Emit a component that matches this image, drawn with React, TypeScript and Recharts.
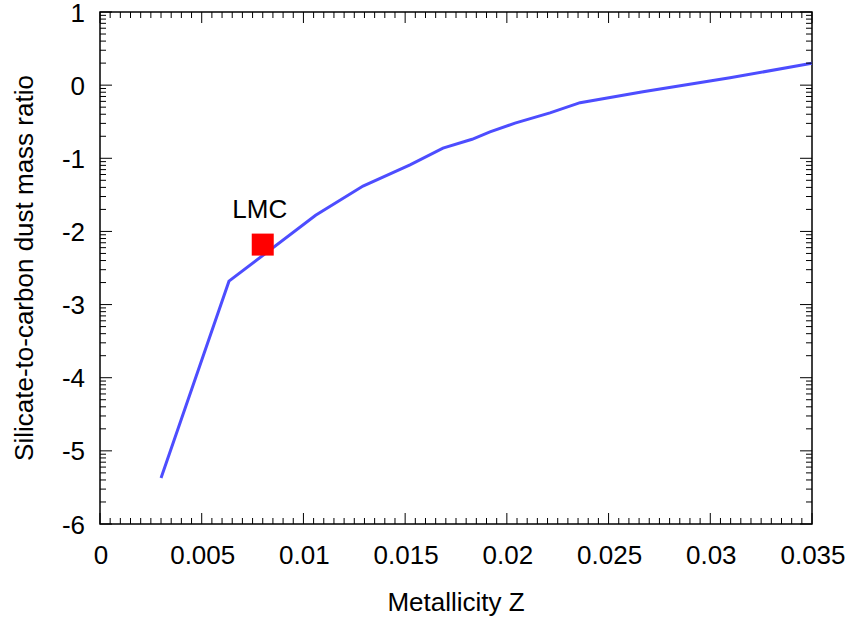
import { ComposedChart, Line, Scatter, XAxis, YAxis, ReferenceArea, Label } from 'recharts';

// silicate/carbon dust mass ratio (log) vs metallicity
const metallicity = [0.003, 0.00634, 0.0106, 0.01293, 0.01524, 0.01686, 0.01829, 0.01917, 0.0204, 0.02212, 0.0236, 0.02669, 0.03097, 0.035];
const logRatio = [-5.37, -2.68, -1.78, -1.38, -1.09, -0.86, -0.74, -0.64, -0.52, -0.38, -0.24, -0.09, 0.1, 0.3];

const obsNames = ['LMC'];
const obsZ = [0.008];
const obsRatio = [-2.18];

const xMajorTicks = [0, 0.005, 0.01, 0.015, 0.02, 0.025, 0.03, 0.035];
const xTickLabels = ['0', '0.005', '0.01', '0.015', '0.02', '0.025', '0.03', '0.035'];
const yMajorTicks = [-6, -5, -4, -3, -2, -1, 0, 1];

const W = 853;
const H = 624;
const TOP = 12;
const RIGHT_GAP = 41;
const X_AXIS_H = 100;
const Y_AXIS_W = 100;
const PLOT_L = Y_AXIS_W;
const PLOT_R = W - RIGHT_GAP;
const PLOT_T = TOP;
const PLOT_B = H - X_AXIS_H;
const FONT = '"Liberation Sans", Arial, sans-serif';

const curve = metallicity.map((z, i) => ({ z, v: logRatio[i] }));
const obs = obsNames.map((name, i) => ({ name, z: obsZ[i], v: obsRatio[i] }));

// minor ticks: 10 per major step on x, log-style on y
const xTicks: number[] = [];
for (let i = 0; i <= 70; i++) xTicks.push(+(i * 0.0005).toFixed(4));
const yTicks: number[] = [];
yMajorTicks.forEach((n) => {
  yTicks.push(n);
  if (n < 1) for (let k = 2; k <= 9; k++) yTicks.push(n + Math.log10(k));
});

const XTick = (props: any) => {
  const { x, payload } = props;
  const major = xMajorTicks.some((t) => Math.abs(t - payload.value) < 1e-9);
  const len = major ? 11 : 6;
  const idx = xMajorTicks.findIndex((t) => Math.abs(t - payload.value) < 1e-9);
  return (
    <g>
      <line x1={x} x2={x} y1={PLOT_B} y2={PLOT_B - len} stroke="#000" strokeWidth={1} />
      <line x1={x} x2={x} y1={PLOT_T} y2={PLOT_T + len} stroke="#000" strokeWidth={1} />
      {major && (
        <text x={x + 1} y={564} textAnchor="middle" fontSize={26} fontFamily={FONT} fill="#000">
          {xTickLabels[idx]}
        </text>
      )}
    </g>
  );
};

const YTick = (props: any) => {
  const { y, payload } = props;
  const major = Number.isInteger(payload.value);
  const len = major ? 12 : 6;
  return (
    <g>
      <line x1={PLOT_L} x2={PLOT_L + len} y1={y} y2={y} stroke="#000" strokeWidth={1} />
      <line x1={PLOT_R} x2={PLOT_R - len} y1={y} y2={y} stroke="#000" strokeWidth={1} />
      {major && (
        <text x={85} y={y + 9.5} textAnchor="end" fontSize={26} fontFamily={FONT} fill="#000">
          {payload.value}
        </text>
      )}
    </g>
  );
};

const ObsMarker = (props: any) => {
  const { cx, cy, payload } = props;
  return (
    <g>
      <rect x={cx - 11} y={cy - 11} width={22} height={22} fill="#ff0000" />
      <text x={cx - 3} y={cy - 27} textAnchor="middle" fontSize={26} fontFamily={FONT} fill="#000">
        {payload.name}
      </text>
    </g>
  );
};

export default function App() {
  return (
    <div style={{ position: 'absolute', left: 0, top: 0, width: W, height: H, background: '#fff' }}>
      <ComposedChart width={W} height={H} margin={{ top: TOP, right: RIGHT_GAP, bottom: 0, left: 0 }}>
        <XAxis
          dataKey="z"
          type="number"
          domain={[0, 0.035]}
          ticks={xTicks}
          interval={0}
          height={X_AXIS_H}
          axisLine={false}
          tickLine={false}
          tick={<XTick />}
          allowDataOverflow
        >
          <Label
            content={() => (
              <text x={(PLOT_L + PLOT_R) / 2} y={611} textAnchor="middle" fontSize={26} fontFamily={FONT} fill="#000">
                Metallicity Z
              </text>
            )}
          />
        </XAxis>
        <YAxis
          dataKey="v"
          type="number"
          domain={[-6, 1]}
          ticks={yTicks}
          interval={0}
          width={Y_AXIS_W}
          axisLine={false}
          tickLine={false}
          tick={<YTick />}
          allowDataOverflow
        >
          <Label
            content={() => (
              <text
                transform="rotate(-90)"
                x={-(PLOT_T + PLOT_B) / 2}
                y={33}
                textAnchor="middle"
                fontSize={26}
                fontFamily={FONT}
                fill="#000"
              >
                Silicate-to-carbon dust mass ratio
              </text>
            )}
          />
        </YAxis>
        <ReferenceArea x1={0} x2={0.035} y1={-6} y2={1} fill="none" stroke="#000" strokeWidth={1.5} ifOverflow="visible" />
        <Line
          data={curve}
          dataKey="v"
          type="linear"
          stroke="#4d4dff"
          strokeWidth={3}
          dot={false}
          isAnimationActive={false}
        />
        <Scatter data={obs} dataKey="v" shape={<ObsMarker />} isAnimationActive={false} />
      </ComposedChart>
    </div>
  );
}
